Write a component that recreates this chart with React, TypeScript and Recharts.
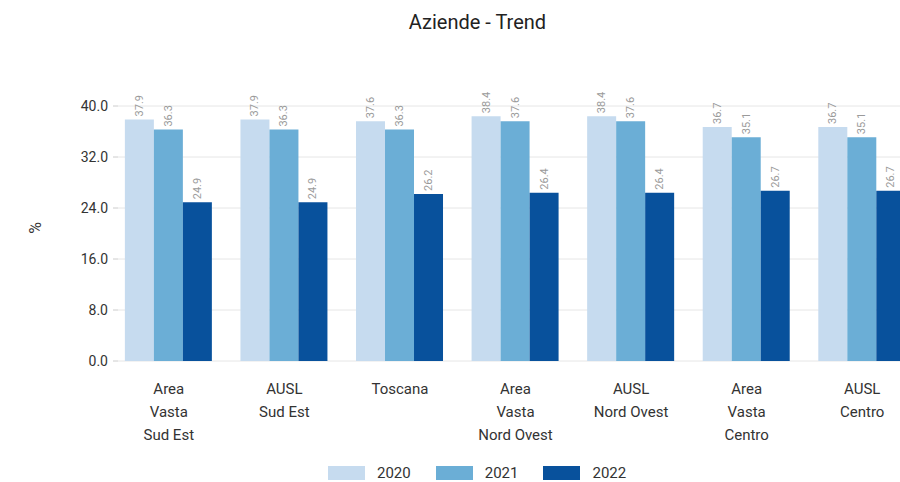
import React from "react";
import { BarChart, Bar, XAxis, YAxis, CartesianGrid, Legend, LabelList, Label } from "recharts";

const categories = [
  "Area Vasta Sud Est",
  "AUSL Sud Est",
  "Toscana",
  "Area Vasta Nord Ovest",
  "AUSL Nord Ovest",
  "Area Vasta Centro",
  "AUSL Centro",
];
const tickLines = [
  ["Area", "Vasta", "Sud Est"],
  ["AUSL", "Sud Est"],
  ["Toscana"],
  ["Area", "Vasta", "Nord Ovest"],
  ["AUSL", "Nord Ovest"],
  ["Area", "Vasta", "Centro"],
  ["AUSL", "Centro"],
];
const values2020 = [37.9, 37.9, 37.6, 38.4, 38.4, 36.7, 36.7];
const values2021 = [36.3, 36.3, 36.3, 37.6, 37.6, 35.1, 35.1];
const values2022 = [24.9, 24.9, 26.2, 26.4, 26.4, 26.7, 26.7];
const yTicks = [0, 8, 16, 24, 32, 40];
const seriesNames = ["2020", "2021", "2022"];
const colors = ["#c6dbef", "#6baed6", "#08519c"];

const data = categories.map((c, i) => ({
  name: c,
  y2020: values2020[i],
  y2021: values2021[i],
  y2022: values2022[i],
}));

const FONT = "Roboto, 'Noto Sans', sans-serif";

const XTick = (props: any) => {
  const { x, y, payload } = props;
  const lines = tickLines[payload.index] || [payload.value];
  return (
    <text x={x} y={y} textAnchor="middle" fill="#333" fontSize={15} fontFamily={FONT}>
      {lines.map((l: string, i: number) => (
        <tspan key={i} x={x} dy={i === 0 ? 25 : 23}>
          {l}
        </tspan>
      ))}
    </text>
  );
};

const BarLabel = (props: any) => {
  const { x, y, width, value } = props;
  const cx = x + width / 2;
  const ty = y - 3;
  return (
    <text
      x={cx}
      y={ty}
      transform={`rotate(-90 ${cx} ${ty})`}
      textAnchor="start"
      dominantBaseline="central"
      fontSize={11}
      fill="#9a9a9a"
      fontFamily={FONT}
    >
      {Number(value).toFixed(1)}
    </text>
  );
};

const LegendContent = () => (
  <div
    style={{
      display: "flex",
      alignItems: "center",
      height: 24,
      marginLeft: 328,
      fontFamily: FONT,
      fontSize: 15,
      color: "#333",
    }}
  >
    {seriesNames.map((n, i) => (
      <div key={n} style={{ display: "flex", alignItems: "center", marginRight: 25 }}>
        <div style={{ width: 37, height: 14, background: colors[i], marginRight: 12 }} />
        <span>{n}</span>
      </div>
    ))}
  </div>
);

export default function App() {
  return (
    <div
      style={{
        position: "fixed",
        left: 0,
        top: 0,
        width: 900,
        height: 482,
        overflow: "hidden",
        background: "#fff",
      }}
    >
      <div
        style={{
          position: "absolute",
          left: 0,
          top: 10,
          width: 955,
          textAlign: "center",
          fontFamily: FONT,
          fontSize: 20,
          color: "#222",
        }}
      >
        Aziende - Trend
      </div>
      <BarChart
        width={930}
        height={482}
        data={data}
        margin={{ top: 106, right: 10, bottom: 0, left: 0 }}
        barCategoryGap="12%"
        barGap={0}
      >
        <CartesianGrid vertical={false} stroke="#e6e6e6" />
        <XAxis
          dataKey="name"
          tick={<XTick />}
          tickLine={false}
          axisLine={false}
          interval={0}
          height={97}
          padding={{ left: -7, right: 0 }}
        />
        <YAxis
          domain={[0, 40]}
          ticks={yTicks}
          tickFormatter={(v: number) => v.toFixed(1)}
          width={118}
          axisLine={false}
          tickLine={{ stroke: "#ccc" }}
          tickSize={5}
          tickMargin={5}
          tick={{ fill: "#333", fontSize: 14, fontFamily: FONT }}
        >
          <Label
            content={() => (
              <text
                x={35}
                y={228}
                transform="rotate(-90 35 228)"
                textAnchor="middle"
                dominantBaseline="central"
                fontSize={16}
                fill="#333"
                fontFamily={FONT}
              >
                %
              </text>
            )}
          />
        </YAxis>
        <Legend
          verticalAlign="bottom"
          content={<LegendContent />}
          wrapperStyle={{ left: 0, width: 930, bottom: -3 }}
        />
        <Bar dataKey="y2020" name="2020" fill={colors[0]} isAnimationActive={false}>
          <LabelList dataKey="y2020" content={<BarLabel />} />
        </Bar>
        <Bar dataKey="y2021" name="2021" fill={colors[1]} isAnimationActive={false}>
          <LabelList dataKey="y2021" content={<BarLabel />} />
        </Bar>
        <Bar dataKey="y2022" name="2022" fill={colors[2]} isAnimationActive={false}>
          <LabelList dataKey="y2022" content={<BarLabel />} />
        </Bar>
      </BarChart>
    </div>
  );
}
